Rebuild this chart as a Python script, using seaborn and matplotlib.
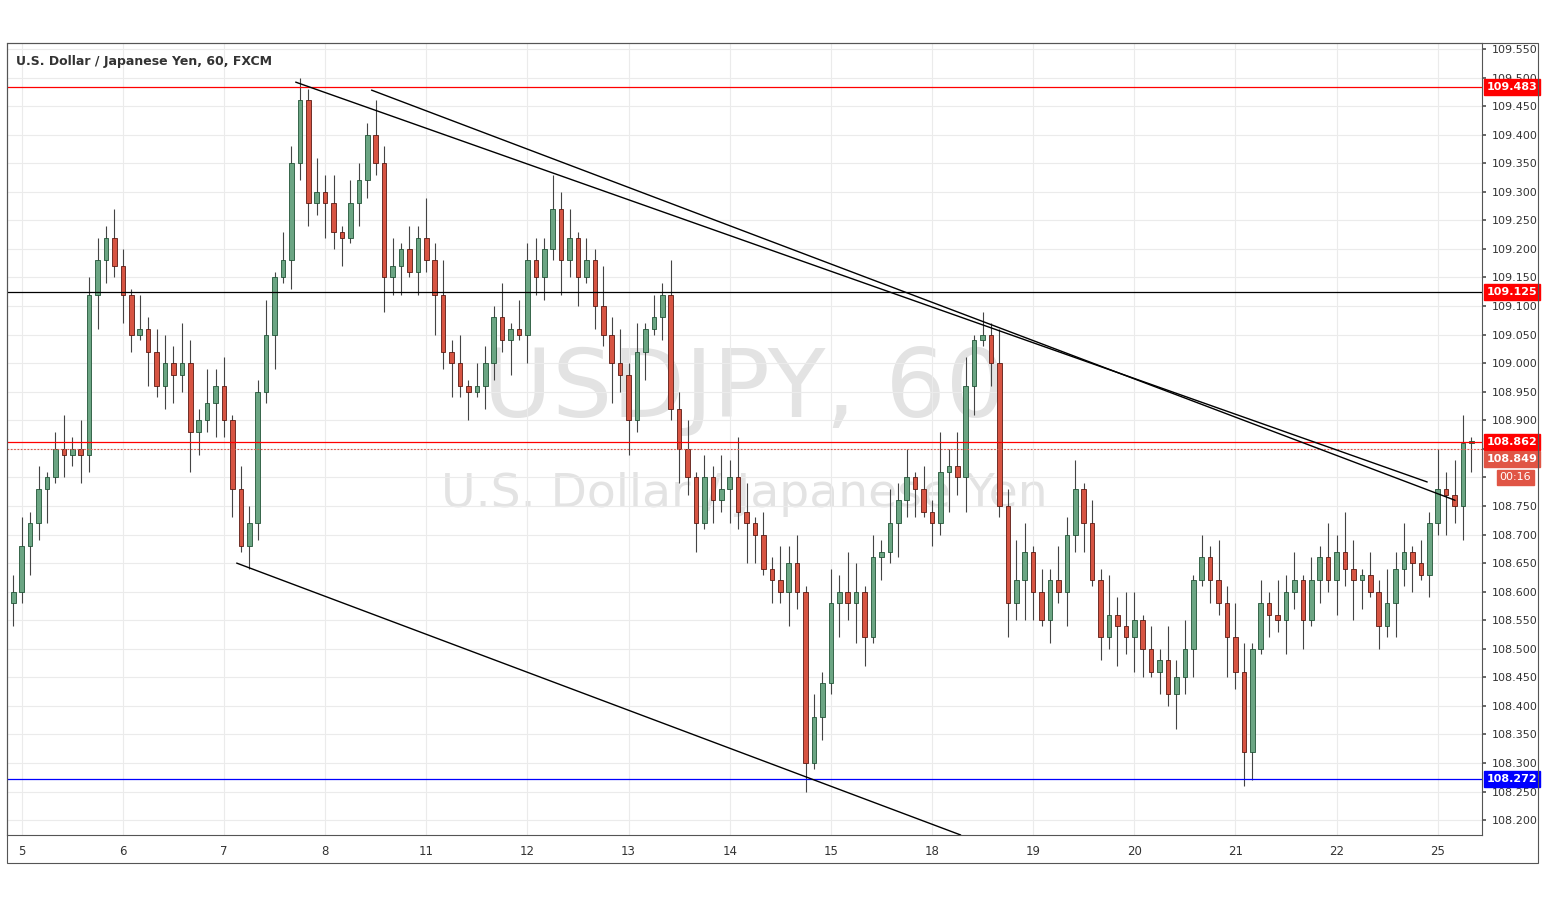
import numpy as np
import matplotlib
matplotlib.use("Agg")
import matplotlib.pyplot as plt
import seaborn as sns
import pandas as pd

# closes in 0.01 JPY above 108.000, 2-hour candles
close_pips = [60,68,72,78,80,85,84,85,84,112,118,122,117,112,105,106,102,96,100,98,
              100,88,90,93,96,90,78,68,72,95,105,115,118,135,146,128,130,128,123,122,
              128,132,140,135,115,117,120,116,122,118,112,102,100,96,95,96,100,108,104,106,
              105,118,115,120,127,118,122,115,118,110,105,100,98,90,102,106,108,112,92,85,
              80,72,80,76,78,80,74,72,70,64,62,60,65,60,30,38,44,58,60,58,
              60,52,66,67,72,76,80,78,74,72,81,82,80,96,104,105,100,75,58,62,
              67,60,55,62,60,70,78,72,62,52,56,54,52,55,50,46,48,42,45,50,
              62,66,62,58,52,46,32,50,58,56,55,60,62,55,62,66,62,67,64,62,
              63,60,54,58,64,67,65,63,72,78,77,75,86,86]
first_open = 58
hi_wick = "3524136253425316245374263514326153426351432635142736251432615342635142736251" \
          "4263514263751426351426375142635142736514263751426351427365142635142736514263" \
          "51426375142635142736514263"
lo_wick = "4253614253642531624537426351432615342635143263514273625143261534263514273625" \
          "1426351426375142635142637514263514273651426375142635142736514263514273651426" \
          "35142637514263514273651426"
day_labels = ["5","6","7","8","11","12","13","14","15","18","19","20","21","22","25"]
levels = [109.483, 109.125, 108.862, 108.272]
level_colors = ["#ff0000", "#000000", "#ff0000", "#0000ff"]
tag_values = [109.483, 109.125, 108.862, 108.272, 108.849]
tag_y = [109.483, 109.125, 108.862, 108.272, 108.832]
tag_colors = ["#ff0000", "#ff0000", "#ff0000", "#0000ff", "#e05545"]
trend_h = [[68.0, 336.5], [86.0, 343.1], [54.0, 225.8]]
trend_p = [[109.492, 108.792], [109.478, 108.760], [108.650, 108.174]]

closes = np.array(close_pips) / 100 + 108.0
n = len(closes)
opens = np.concatenate([[first_open / 100 + 108.0], closes[:-1]])
hw = np.array([int(c) for c in hi_wick[:n]]) / 100
lw = np.array([int(c) for c in lo_wick[:n]]) / 100
highs = np.maximum(opens, closes) + hw
lows = np.minimum(opens, closes) - lw
xs = np.arange(n) * 2 + 1

sns.set_theme(style="white")
fig = plt.figure(figsize=(15.45, 9), dpi=100)
ax = fig.add_axes([7/1545, 1-835/900, (1482-7)/1545, (835-43)/900])
ax.set_xlim(-0.5, 349.5)
ax.set_ylim(108.174, 109.5605)

yt = np.round(np.arange(108.20, 109.551, 0.05), 3)
ax.set_yticks(yt)
ax.set_yticklabels(["" if abs(v - 108.8) < 1e-6 else f"{v:.3f}" for v in yt],
                   fontsize=8, color="#333333")
ax.yaxis.tick_right()
day_pos = [3 + 24 * k for k in range(len(day_labels))]
ax.set_xticks(day_pos)
ax.set_xticklabels(day_labels, fontsize=8.5, color="#333333")
ax.tick_params(axis="both", length=3, color="#555555", pad=4)
ax.grid(True, color="#ebebeb", linewidth=0.8)
for s in ax.spines.values():
    s.set_color("#555555"); s.set_linewidth(0.8)

# watermark
ax.text(0.5, 0.56, "USDJPY, 60", transform=ax.transAxes, ha="center", va="center",
        fontsize=68, color="#e3e3e3", zorder=0)
ax.text(0.5, 0.43, "U.S. Dollar / Japanese Yen", transform=ax.transAxes, ha="center",
        va="center", fontsize=34, color="#e3e3e3", zorder=0)

up = closes >= opens
ax.vlines(xs, lows, highs, color="#444444", linewidth=0.8, zorder=2)
bh = np.where(np.abs(closes - opens) < 0.004, 0.004, closes - opens)
ax.bar(xs[up], bh[up], bottom=opens[up], width=1.1, color="#6ba583",
       edgecolor="#225437", linewidth=0.6, zorder=3)
ax.bar(xs[~up], bh[~up], bottom=opens[~up], width=1.1, color="#d75442",
       edgecolor="#5b1a13", linewidth=0.6, zorder=3)

for lv, c in zip(levels, level_colors):
    ax.axhline(lv, color=c, linewidth=0.9, zorder=4)
ax.axhline(108.849, color="#e05545", linewidth=0.8, linestyle=(0, (1.5, 1.5)), zorder=4)

for h, p in zip(trend_h, trend_p):
    sns.lineplot(x=h, y=p, ax=ax, color="black", linewidth=1.0, zorder=5)

ytr = ax.get_yaxis_transform()
for lv, yy, c in zip(tag_values, tag_y, tag_colors):
    ax.text(1.003, yy, f"{lv:.3f}", transform=ytr, fontsize=8, color="white",
            fontweight="bold", va="center", ha="left", zorder=6,
            bbox=dict(boxstyle="square,pad=0.25", fc=c, ec=c))
ax.text(1.012, 108.800, "00:16", transform=ytr, fontsize=8, color="white",
        va="center", ha="left", zorder=6,
        bbox=dict(boxstyle="square,pad=0.25", fc="#e05545", ec="#e05545"))

ax.text(0.006, 0.985, "U.S. Dollar / Japanese Yen, 60, FXCM", transform=ax.transAxes,
        fontsize=9, fontweight="bold", color="#333333", va="top", ha="left")

fig.patches.append(plt.Rectangle((7/1545, 1-863/900), (1538-7)/1545, (863-43)/900,
                                 transform=fig.transFigure, fill=False,
                                 edgecolor="#555555", linewidth=0.8))
fig.savefig("out.png", dpi=100)
